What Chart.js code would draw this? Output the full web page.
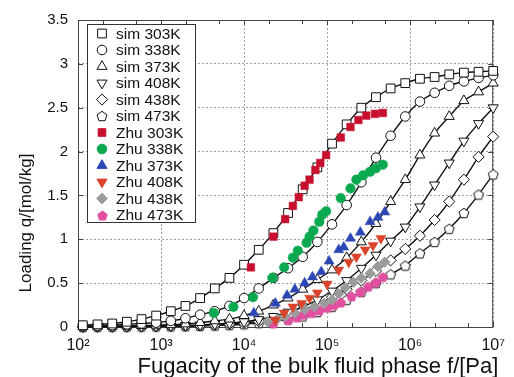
<!DOCTYPE html>
<html><head><meta charset="utf-8">
<script src="https://cdn.jsdelivr.net/npm/chart.js@4.4.0/dist/chart.umd.min.js"></script>
<style>html,body{margin:0;padding:0;background:#fff;overflow:hidden}#wrap{width:514px;height:377px}</style>
</head><body><div id="wrap"><canvas id="c" width="514" height="377"></canvas></div>
<script>
// ---- data (fugacity in Pa, loading in mol/kg) ----
const simFugacity = [114.5, 171.9, 258.1, 387.4, 581.6, 873.3, 1311, 1968, 2955, 4437, 6661, 10000, 15013, 22539, 33838, 50802, 76270, 114505, 171907, 258086, 387468, 581709, 873326, 1311133, 1968419, 2955209, 4436687, 6660846, 10000000];
const sim303 = [0.02,0.03,0.04,0.06,0.09,0.13,0.18,0.24,0.33,0.44,0.56,0.71,0.88,1.07,1.30,1.57,1.82,2.09,2.31,2.50,2.62,2.72,2.78,2.83,2.85,2.88,2.90,2.91,2.92];
const sim338 = [0.01,0.015,0.02,0.03,0.04,0.05,0.07,0.10,0.14,0.18,0.24,0.33,0.44,0.56,0.67,0.80,0.97,1.17,1.39,1.65,1.93,2.18,2.40,2.57,2.67,2.75,2.80,2.84,2.87];
const sim373 = [0.005,0.007,0.009,0.012,0.016,0.02,0.026,0.035,0.05,0.07,0.09,0.13,0.18,0.25,0.33,0.43,0.54,0.65,0.79,0.97,1.18,1.43,1.68,1.96,2.21,2.40,2.58,2.68,2.78];
const sim408 = [0.003,0.004,0.005,0.007,0.009,0.011,0.014,0.018,0.024,0.033,0.045,0.06,0.085,0.12,0.17,0.23,0.31,0.41,0.53,0.67,0.82,0.98,1.14,1.37,1.62,1.87,2.12,2.32,2.50];
const sim438 = [0.002,0.003,0.004,0.005,0.006,0.008,0.01,0.013,0.017,0.024,0.033,0.046,0.065,0.095,0.135,0.19,0.26,0.34,0.43,0.53,0.64,0.76,0.89,1.04,1.22,1.43,1.68,1.94,2.17];
const sim473 = [0.001,0.002,0.003,0.004,0.005,0.006,0.007,0.009,0.012,0.016,0.022,0.031,0.044,0.062,0.088,0.12,0.17,0.23,0.31,0.40,0.50,0.60,0.70,0.84,0.97,1.12,1.30,1.51,1.74];

const zhu303F = [1.208e4,2.254e4,3.12e4,3.87e4,4.56e4,5.36e4,6.14e4,7.22e4,8.28e4,9.73e4,1.46e5,1.91e5,2.38e5,2.96e5,3.77e5,4.69e5];
const zhu303Q = [0.68,1.03,1.23,1.38,1.48,1.61,1.68,1.79,1.87,1.96,2.16,2.28,2.36,2.41,2.43,2.44];
const zhu338F = [4.32e3,7.43e3,1.28e4,2.19e4,3.04e4,3.87e4,4.44e4,5.66e4,6.14e4,6.84e4,8.05e4,8.73e4,9.73e4,1.46e5,1.91e5,2.25e5,2.72e5,3.29e5,3.87e5,4.69e5];
const zhu338Q = [0.16,0.23,0.34,0.56,0.68,0.79,0.87,0.96,1.03,1.10,1.20,1.28,1.32,1.47,1.58,1.68,1.73,1.77,1.81,1.85];
const zhu373F = [1.31e4,2.38e4,3.29e4,4.09e4,5.36e4,6.66e4,8.50e4,1.057e5,1.38e5,1.585e5,1.91e5,2.51e5,3.29e5,4.09e5,4.94e5];
const zhu373Q = [0.16,0.27,0.36,0.43,0.50,0.57,0.63,0.75,0.88,0.91,1.01,1.08,1.20,1.25,1.31];
const zhu408F = [2.38e4,3.04e4,3.87e4,4.94e4,6.14e4,7.63e4,1.0e5,1.38e5,1.82e5,2.25e5,2.88e5,3.57e5,4.44e5];
const zhu408Q = [0.08,0.16,0.23,0.27,0.33,0.39,0.49,0.65,0.74,0.80,0.88,0.93,1.01];
const zhu438F = [1.92e4,2.51e4,3.12e4,4.09e4,5.36e4,7.03e4,9.22e4,1.146e5,1.38e5,1.67e5,2.08e5,2.58e5,3.29e5,4.09e5,4.94e5];
const zhu438Q = [0.06,0.09,0.12,0.16,0.20,0.23,0.27,0.31,0.38,0.45,0.51,0.56,0.61,0.69,0.74];
const zhu473F = [2.25e4,3.38e4,4.32e4,5.08e4,6.48e4,8.05e4,1.0e5,1.21e5,1.46e5,1.97e5,2.51e5,3.12e5,3.87e5,4.69e5];
const zhu473Q = [0.04,0.08,0.11,0.14,0.16,0.19,0.22,0.25,0.28,0.35,0.40,0.46,0.51,0.57];

const simLabels = ['sim 303K','sim 338K','sim 373K','sim 408K','sim 438K','sim 473K'];
const zhuLabels = ['Zhu 303K','Zhu 338K','Zhu 373K','Zhu 408K','Zhu 438K','Zhu 473K'];
const xTickValues = [1e2,1e3,1e4,1e5,1e6,1e7];
const xTickLabels = ['10\u00B2','10\u00B3','10\u2074','10\u2075','10\u2076','10\u2077'];
const yTickValues = [0,0.5,1,1.5,2,2.5,3,3.5];
const yTickLabels = ['0','0.5','1','1.5','2','2.5','3','3.5'];
const xTitle = 'Fugacity of the bulk fluid phase f/[Pa]';
const yTitle = 'Loading q/[mol/kg]';

// ---- styles ----
const FONT = "'Liberation Sans', Arial, Helvetica, sans-serif";
const zhuColors = ['#c8102e','#0aa84f','#2c47b5','#d9442b','#9a9c9c','#e24fa0'];

function makePentagon(fill, stroke, r) {
  const c = document.createElement('canvas');
  const s = Math.ceil(2 * r + 3);
  c.width = s; c.height = s;
  const g = c.getContext('2d');
  g.beginPath();
  for (let i = 0; i < 5; i++) {
    const a = -Math.PI / 2 + i * 2 * Math.PI / 5;
    const px = s / 2 + r * Math.cos(a), py = s / 2 + 0.5 + r * Math.sin(a);
    if (i === 0) g.moveTo(px, py); else g.lineTo(px, py);
  }
  g.closePath();
  g.fillStyle = fill; g.fill();
  g.strokeStyle = stroke; g.lineWidth = 1; g.stroke();
  return c;
}
const pentOpen = makePentagon('#ffffff', '#111111', 5.2);
const pentPink = makePentagon(zhuColors[5], zhuColors[5], 5);

const simStyles = [
  {pointStyle:'rect', radius:6.2, rotation:0},
  {pointStyle:'circle', radius:4.8, rotation:0},
  {pointStyle:'triangle', radius:5.8, rotation:0},
  {pointStyle:'triangle', radius:5.8, rotation:180},
  {pointStyle:'rectRot', radius:5.6, rotation:0},
  {pointStyle:pentOpen, radius:5, rotation:0}
];
const zhuStyles = [
  {pointStyle:'rect', radius:5.4, rotation:0},
  {pointStyle:'circle', radius:4.8, rotation:0},
  {pointStyle:'triangle', radius:5.8, rotation:0},
  {pointStyle:'triangle', radius:5.8, rotation:180},
  {pointStyle:'rectRot', radius:5.4, rotation:0},
  {pointStyle:pentPink, radius:5, rotation:0}
];

const simSeries = [sim303, sim338, sim373, sim408, sim438, sim473];
const zhuSeries = [[zhu303F,zhu303Q],[zhu338F,zhu338Q],[zhu373F,zhu373Q],[zhu408F,zhu408Q],[zhu438F,zhu438Q],[zhu473F,zhu473Q]];

const datasets = [];
simSeries.forEach((vals, i) => {
  datasets.push({
    label: simLabels[i],
    data: vals.map((q, k) => ({x: simFugacity[k], y: q})),
    borderColor: '#111', borderWidth: 1.4,
    backgroundColor: '#fff',
    pointBackgroundColor: '#fff', pointBorderColor: '#111', pointBorderWidth: 1,
    pointStyle: simStyles[i].pointStyle, pointRadius: simStyles[i].radius, pointRotation: simStyles[i].rotation,
    cubicInterpolationMode: 'monotone', fill: false, clip: false, order: 1
  });
});
zhuSeries.forEach((pair, i) => {
  datasets.push({
    label: zhuLabels[i],
    data: pair[0].map((f, k) => ({x: f, y: pair[1][k]})),
    showLine: false,
    borderColor: zhuColors[i], backgroundColor: zhuColors[i],
    pointBackgroundColor: zhuColors[i], pointBorderColor: zhuColors[i], pointBorderWidth: 0.5,
    pointStyle: zhuStyles[i].pointStyle, pointRadius: zhuStyles[i].radius, pointRotation: zhuStyles[i].rotation,
    clip: false, order: 0
  });
});

function drawMarker(ctx, style, fill, stroke, x, y) {
  const ps = style.pointStyle, r = style.radius;
  ctx.save();
  ctx.fillStyle = fill; ctx.strokeStyle = stroke; ctx.lineWidth = 1;
  if (typeof ps !== 'string') {
    ctx.drawImage(ps, Math.round(x - ps.width / 2), Math.round(y - ps.height / 2));
    ctx.restore(); return;
  }
  ctx.beginPath();
  if (ps === 'rect') {
    const s = Math.SQRT1_2 * r;
    ctx.rect(x - s, y - s, 2 * s, 2 * s);
  } else if (ps === 'circle') {
    ctx.arc(x, y, r, 0, Math.PI * 2);
  } else if (ps === 'triangle') {
    const sign = style.rotation === 180 ? -1 : 1;
    for (let i = 0; i < 3; i++) {
      const a = i * 2 * Math.PI / 3;
      const px = x + Math.sin(a) * r, py = y - sign * Math.cos(a) * r;
      if (i === 0) ctx.moveTo(px, py); else ctx.lineTo(px, py);
    }
    ctx.closePath();
  } else if (ps === 'rectRot') {
    ctx.moveTo(x, y - r); ctx.lineTo(x + r, y); ctx.lineTo(x, y + r); ctx.lineTo(x - r, y); ctx.closePath();
  }
  ctx.fill(); ctx.stroke();
  ctx.restore();
}

const framePlugin = {
  id: 'frame',
  beforeDatasetsDraw(chart) {
    const {ctx, chartArea: a, scales} = chart;
    ctx.save();
    ctx.strokeStyle = '#444'; ctx.lineWidth = 1;
    ctx.strokeRect(a.left + 0.5, a.top + 0.5, a.right - a.left - 1, a.bottom - a.top);
    ctx.beginPath();
    for (let d = 0; d < xTickValues.length - 1; d++) {
      [2, 5].forEach(m => {
        const px = Math.round(scales.x.getPixelForValue(xTickValues[d] * m)) + 0.5;
        ctx.moveTo(px, a.bottom); ctx.lineTo(px, a.bottom - 4);
        ctx.moveTo(px, a.top); ctx.lineTo(px, a.top + 4);
      });
    }
    yTickValues.forEach(v => {
      const py = Math.round(scales.y.getPixelForValue(v)) + 0.5;
      ctx.moveTo(a.left, py); ctx.lineTo(a.left + 5, py);
      ctx.moveTo(a.right, py); ctx.lineTo(a.right - 5, py);
    });
    xTickValues.forEach(v => {
      const px = Math.round(scales.x.getPixelForValue(v)) + 0.5;
      ctx.moveTo(px, a.bottom); ctx.lineTo(px, a.bottom - 5);
      ctx.moveTo(px, a.top); ctx.lineTo(px, a.top + 5);
    });
    ctx.stroke();
    ctx.restore();
  },
  afterDraw(chart) {
    const {ctx, chartArea: a} = chart;
    // axis titles
    ctx.save();
    ctx.fillStyle = '#111';
    ctx.textAlign = 'center'; ctx.textBaseline = 'middle';
    ctx.font = "22px " + FONT;
    ctx.fillText(xTitle, 318, 367);
    ctx.translate(26, 223);
    ctx.rotate(-Math.PI / 2);
    ctx.font = "17px " + FONT;
    ctx.fillText(yTitle, 0, 0);
    ctx.restore();
    // legend
    const bx = a.left + 9, by = a.top + 4, bw = 108, bh = 198, row = 16.5;
    ctx.save();
    ctx.fillStyle = '#fff';
    ctx.fillRect(bx, by, bw, bh);
    ctx.strokeStyle = '#333'; ctx.lineWidth = 1;
    ctx.strokeRect(bx + 0.5, by + 0.5, bw, bh);
    ctx.font = "15.5px " + FONT;
    ctx.textBaseline = 'middle'; ctx.textAlign = 'left';
    const labels = simLabels.concat(zhuLabels);
    labels.forEach((lab, i) => {
      const cy = by + 9.5 + i * row;
      if (i < 6) drawMarker(ctx, simStyles[i], '#fff', '#111', bx + 15, cy);
      else drawMarker(ctx, zhuStyles[i - 6], zhuColors[i - 6], zhuColors[i - 6], bx + 15, cy);
      ctx.fillStyle = '#111';
      ctx.fillText(lab, bx + 29, cy + 1);
    });
    ctx.restore();
  }
};

new Chart(document.getElementById('c'), {
  type: 'line',
  data: {datasets},
  options: {
    responsive: false, animation: false, devicePixelRatio: 1,
    layout: {padding: {left: 0, right: 11, top: 20, bottom: 0}},
    plugins: {legend: {display: false}, tooltip: {enabled: false}},
    scales: {
      x: {
        type: 'logarithmic', min: 100, max: 1e7, position: 'bottom',
        afterBuildTicks: s => { s.ticks = xTickValues.map(v => ({value: v})); },
        afterFit: s => { s.height = 50; },
        ticks: {callback: (v, i) => xTickLabels[i], font: {family: FONT, size: 16}, color: '#111', padding: 9, autoSkip: false, maxRotation: 0},
        grid: {color: '#a0a0a0', lineWidth: 1, drawTicks: false},
        border: {display: false, dash: [2, 2]},
        title: {display: false}
      },
      y: {
        type: 'linear', min: 0, max: 3.5,
        afterBuildTicks: s => { s.ticks = yTickValues.map(v => ({value: v})); },
        afterFit: s => { s.width = 78; },
        ticks: {callback: (v, i) => yTickLabels[i], font: {family: FONT, size: 15}, color: '#111', padding: 10},
        grid: {color: '#a0a0a0', lineWidth: 1, drawTicks: false},
        border: {display: false, dash: [2, 2]},
        title: {display: false}
      }
    }
  },
  plugins: [framePlugin]
});
</script></body></html>
